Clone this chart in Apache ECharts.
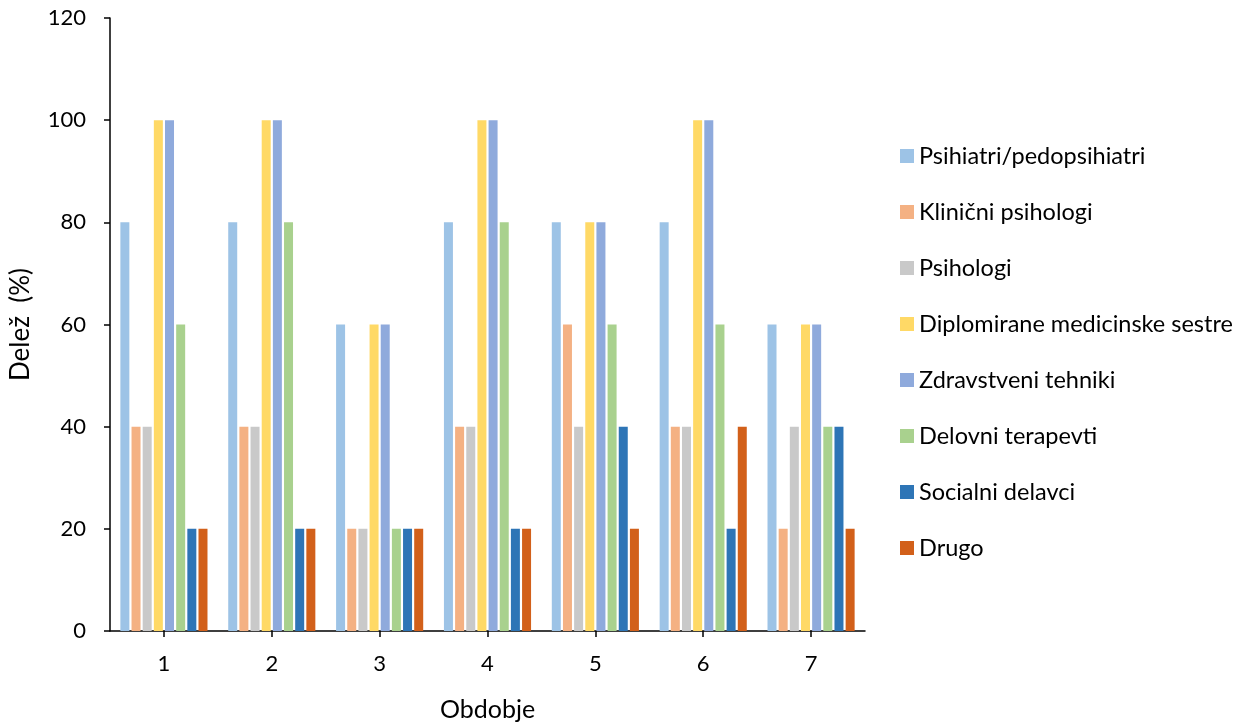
<!DOCTYPE html>
<html>
<head>
<meta charset="utf-8">
<script src="https://cdn.jsdelivr.net/npm/echarts@6/dist/echarts.min.js"></script>
<style>
  html, body { margin: 0; padding: 0; background: #fff; }
  #chart { width: 1249px; height: 722px; }
</style>
</head>
<body>
<div id="chart"></div>
<script>
// Periods on the x axis
const categories = ['1', '2', '3', '4', '5', '6', '7'];

// Share (%) per professional group and period
const psihiatri   = [80, 80, 60, 80, 80, 80, 60];
const klinicni    = [40, 40, 20, 40, 60, 40, 20];
const psihologi   = [40, 40, 20, 40, 40, 40, 40];
const diplomirane = [100, 100, 60, 100, 80, 100, 60];
const zdravstveni = [100, 100, 60, 100, 80, 100, 60];
const delovni     = [60, 80, 20, 80, 60, 60, 40];
const socialni    = [20, 20, 20, 20, 40, 20, 40];
const drugo       = [20, 20, 20, 20, 20, 40, 20];

const seriesNames = [
  'Psihiatri/pedopsihiatri',
  'Klinični psihologi',
  'Psihologi',
  'Diplomirane medicinske sestre',
  'Zdravstveni tehniki',
  'Delovni terapevti',
  'Socialni delavci',
  'Drugo'
];
const seriesData = [psihiatri, klinicni, psihologi, diplomirane, zdravstveni, delovni, socialni, drugo];
const colors = ['#9DC3E6', '#F4B183', '#C9C9C9', '#FFD966', '#8FAADC', '#A9D18E', '#2E75B6', '#D2601A'];

const font = 'Lato, "Open Sans", sans-serif';

const chart = echarts.init(document.getElementById('chart'));
chart.setOption({
  backgroundColor: '#ffffff',
  color: colors,
  textStyle: { fontFamily: font },
  grid: { left: 110, right: 384, top: 18, bottom: 91, containLabel: false, outerBoundsMode: 'none' },
  legend: {
    orient: 'vertical',
    left: 895,
    top: 139,
    itemWidth: 14,
    itemHeight: 14,
    itemGap: 32,
    icon: 'rect',
    textStyle: { fontSize: 23.5, color: '#000', fontFamily: font, lineHeight: 24 },
    data: seriesNames
  },
  xAxis: {
    type: 'category',
    data: categories,
    name: 'Obdobje',
    nameLocation: 'middle',
    nameGap: 66,
    nameTextStyle: { fontSize: 25, color: '#000', fontFamily: font },
    axisLine: { lineStyle: { color: '#000', width: 1.5 } },
    axisTick: { show: true, alignWithLabel: true, length: 6, lineStyle: { color: '#000', width: 1.5 } },
    axisLabel: { fontSize: 22, color: '#000', margin: 22, fontFamily: font },
    splitLine: { show: false }
  },
  yAxis: {
    type: 'value',
    min: 0,
    max: 120,
    interval: 20,
    name: 'Delež  (%)',
    nameLocation: 'middle',
    nameGap: 76,
    nameRotate: 90,
    nameTextStyle: { fontSize: 26, color: '#000', fontFamily: font },
    axisLine: { show: true, lineStyle: { color: '#000', width: 1.5 } },
    axisTick: { show: true, length: 6, lineStyle: { color: '#000', width: 1.5 } },
    axisLabel: { fontSize: 22, color: '#000', margin: 24, fontFamily: font },
    splitLine: { show: false }
  },
  series: seriesNames.map((name, i) => ({
    name: name,
    type: 'bar',
    data: seriesData[i],
    barWidth: 9,
    barGap: '24%',
    itemStyle: { color: colors[i] }
  }))
});
</script>
</body>
</html>
